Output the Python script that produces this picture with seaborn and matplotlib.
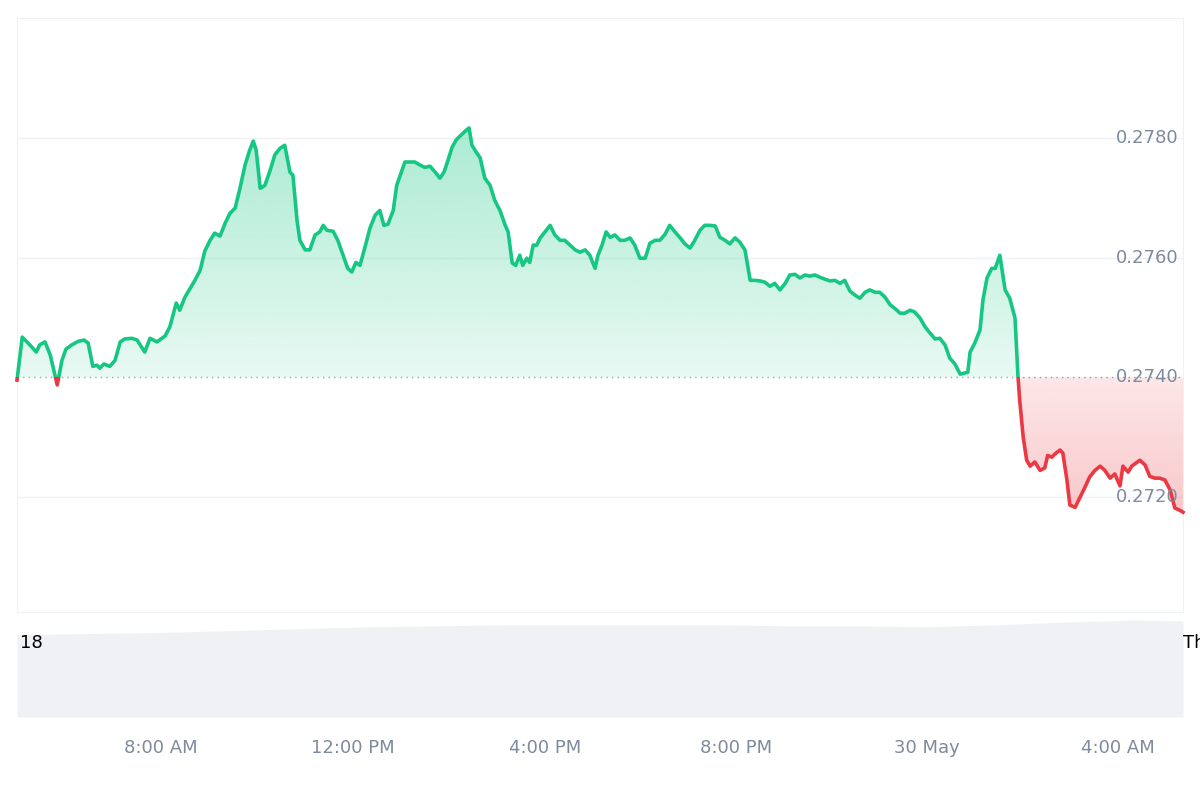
import numpy as np
import pandas as pd
import matplotlib
matplotlib.use("Agg")
import matplotlib.pyplot as plt
import seaborn as sns
from matplotlib.patches import Rectangle
from matplotlib.colors import LinearSegmentedColormap
from matplotlib.path import Path

# sample time units since the start of the window
minutes = [0,9,22,33,39,48,57,69,77,84,94,105,115,122,130,137,142,149,159,168,177,185,197,206,219,228,240,254,262,273,279,288,297,305,314,322,331,339,348,357,365,374,382,391,399,405,410,417,425,434,442,451,459,468,473,480,485,494,502,511,519,525,531,542,550,559,567,574,581,588,597,605,614,622,629,636,645,651,660,665,674,682,691,699,708,717,725,732,739,746,753,759,770,775,780,787,794,802,811,819,828,837,842,849,855,862,867,874,879,885,891,897,905,914,922,931,939,948,957,965,974,982,991,996,1003,1010,1017,1025,1034,1042,1051,1059,1068,1077,1085,1094,1102,1111,1119,1128,1137,1145,1154,1162,1171,1179,1188,1197,1205,1214,1222,1231,1239,1248,1257,1265,1274,1282,1291,1299,1308,1317,1325,1334,1342,1351,1359,1368,1377,1385,1394,1402,1411,1419,1428,1437,1445,1454,1462,1471,1479,1488,1497,1505,1514,1522,1531,1539,1548,1557,1565,1574,1582,1591,1599,1608,1617,1625,1630,1634,1642,1651,1656,1663,1671,1677,1685,1694,1702,1711,1716,1719,1725,1731,1737,1745,1754,1762,1767,1774,1779,1788,1793,1800,1805,1814,1822,1831,1839,1848,1857,1865,1874,1882,1891,1896,1905,1911,1918,1925,1934,1942,1951,1959,1968,1977,1985,1994,1999]
prices = [0.27395,0.27467,0.27454,0.27442,0.27454,0.27459,0.27437,0.27387,0.27428,0.27447,0.27454,0.27460,0.27462,0.27457,0.27418,0.27420,0.27415,0.27422,0.27418,0.27428,0.27459,0.27464,0.27465,0.27462,0.27442,0.27465,0.27459,0.27469,0.27484,0.27524,0.27512,0.27534,0.27549,0.27562,0.27579,0.27611,0.27629,0.27641,0.27636,0.27658,0.27674,0.27683,0.27715,0.27755,0.27780,0.27795,0.27780,0.27716,0.27721,0.27746,0.27772,0.27783,0.27788,0.27743,0.27738,0.27663,0.27629,0.27613,0.27613,0.27638,0.27643,0.27654,0.27646,0.27644,0.27629,0.27604,0.27582,0.27576,0.27592,0.27587,0.27619,0.27649,0.27671,0.27679,0.27654,0.27656,0.27679,0.27721,0.27746,0.27760,0.27760,0.27760,0.27755,0.27751,0.27753,0.27743,0.27733,0.27743,0.27763,0.27785,0.27797,0.27803,0.27813,0.27817,0.27788,0.27777,0.27767,0.27733,0.27721,0.27696,0.27679,0.27654,0.27643,0.27591,0.27587,0.27604,0.27587,0.27599,0.27592,0.27621,0.27621,0.27633,0.27643,0.27654,0.27638,0.27629,0.27629,0.27621,0.27613,0.27609,0.27613,0.27604,0.27582,0.27604,0.27621,0.27643,0.27634,0.27638,0.27629,0.27629,0.27633,0.27621,0.27599,0.27599,0.27624,0.27629,0.27629,0.27639,0.27654,0.27643,0.27633,0.27623,0.27616,0.27629,0.27646,0.27654,0.27654,0.27653,0.27634,0.27629,0.27623,0.27633,0.27626,0.27613,0.27562,0.27562,0.27561,0.27559,0.27552,0.27557,0.27546,0.27557,0.27571,0.27572,0.27566,0.27571,0.27569,0.27571,0.27567,0.27564,0.27561,0.27562,0.27557,0.27562,0.27544,0.27537,0.27532,0.27542,0.27546,0.27542,0.27542,0.27534,0.27521,0.27515,0.27507,0.27507,0.27512,0.27509,0.27499,0.27484,0.27474,0.27464,0.27465,0.27454,0.27432,0.27422,0.27405,0.27407,0.27408,0.27442,0.27457,0.27479,0.27529,0.27566,0.27582,0.27582,0.27604,0.27546,0.27532,0.27499,0.27403,0.27362,0.27300,0.27261,0.27251,0.27258,0.27244,0.27248,0.27269,0.27266,0.27271,0.27278,0.27273,0.27228,0.27186,0.27182,0.27198,0.27216,0.27233,0.27244,0.27251,0.27244,0.27231,0.27238,0.27218,0.27251,0.27241,0.27251,0.27256,0.27261,0.27253,0.27234,0.27231,0.27231,0.27228,0.27211,0.27181,0.27177,0.27174]
assert len(minutes) == len(prices), (len(minutes), len(prices))

baseline = 0.2740
ytick_vals = [0.2720, 0.2740, 0.2760, 0.2780]
ytick_labels = ["0.2720", "0.2740", "0.2760", "0.2780"]
xtick_pos = [247, 576, 905, 1233, 1560, 1887]
xtick_labels = ["8:00 AM", "12:00 PM", "4:00 PM", "8:00 PM", "30 May", "4:00 AM"]
vol_minutes = [0, 120, 240, 360, 480, 600, 720, 840, 960, 1080, 1200, 1320, 1440, 1560, 1680, 1800, 1920, 1999]
vol_level = [0.85, 0.86, 0.87, 0.89, 0.91, 0.93, 0.94, 0.95, 0.95, 0.95, 0.95, 0.94, 0.94, 0.93, 0.95, 0.98, 1.0, 0.99]

GREEN = "#16c784"
RED = "#ea3943"
GREY = "#808a9d"
LINE = "#eff2f5"

df = pd.DataFrame({"t": minutes, "p": prices})
x0, x1 = 0, 1999
ymin, ymax = 0.27007, 0.28001

fig = plt.figure(figsize=(12, 8), dpi=100)
ax = fig.add_axes([17/1200, 1-612/800, 1166/1200, 594/800])
ax.set_xlim(x0, x1)
ax.set_ylim(ymin, ymax)
for s in ax.spines.values():
    s.set_color(LINE)

for v in ytick_vals:
    if v == baseline:
        ax.axhline(v, color="#9aa0aa", lw=1.0, ls=(0, (1, 3)), zorder=1)
    else:
        ax.axhline(v, color=LINE, lw=1.0, zorder=0)
for v, l in zip(ytick_vals, ytick_labels):
    ax.text(x1 - 8, v, l, ha="right", va="center", color=GREY, fontsize=13, zorder=5)

t = np.array(minutes, float); p = np.array(prices)
def grad_fill(where, color, top, bot, a_top, a_bot):
    poly = ax.fill_between(t, p, baseline, where=where, interpolate=True, color="none", lw=0)
    grad = np.linspace(a_top, a_bot, 256).reshape(-1, 1)
    rgba = np.zeros((256, 1, 4))
    rgba[..., :3] = matplotlib.colors.to_rgb(color)
    rgba[..., 3] = grad
    img = ax.imshow(rgba, extent=[x0, x1, bot, top], origin="upper", aspect="auto", zorder=1)
    img.set_clip_path(Path.make_compound_path(*poly.get_paths()), transform=ax.transData)

grad_fill(p >= baseline, GREEN, 0.27817, baseline, 0.36, 0.10)
grad_fill(p <= baseline, RED, baseline, 0.27174, 0.12, 0.28)
ax.set_xlim(x0, x1); ax.set_ylim(ymin, ymax)

sns.lineplot(data=df, x="t", y="p", ax=ax, color=GREEN, lw=2.6, zorder=4)
ax.lines[-1].set_clip_path(Rectangle((x0 - 100, baseline), 3000, 1, transform=ax.transData))
sns.lineplot(data=df, x="t", y="p", ax=ax, color=RED, lw=2.6, zorder=4)
ax.lines[-1].set_clip_path(Rectangle((x0 - 100, baseline - 1), 3000, 1, transform=ax.transData))
ax.set_xlabel(""); ax.set_ylabel("")
ax.set_xticks([]); ax.set_yticks([])

vax = fig.add_axes([17/1200, 1-717/800, 1166/1200, 97/800])
vax.set_xlim(x0, x1); vax.set_ylim(0, 1)
vax.fill_between(vol_minutes, vol_level, 0, color="#eff1f5", lw=0)
for s in vax.spines.values():
    s.set_visible(False)
vax.set_xticks([]); vax.set_yticks([])
fig.text(20/1200, 1-643/800, "18", fontsize=13, color="black", va="center", ha="left")
fig.text(1183/1200, 1-643/800, "Th", fontsize=13, color="black", va="center", ha="left")

for m, l in zip(xtick_pos, xtick_labels):
    xf = ax.transData.transform((m, 0))[0] / fig.dpi / 12
    fig.text(xf, 1-748/800, l, ha="center", va="center", color=GREY, fontsize=13)

fig.savefig("out.png", dpi=100)
